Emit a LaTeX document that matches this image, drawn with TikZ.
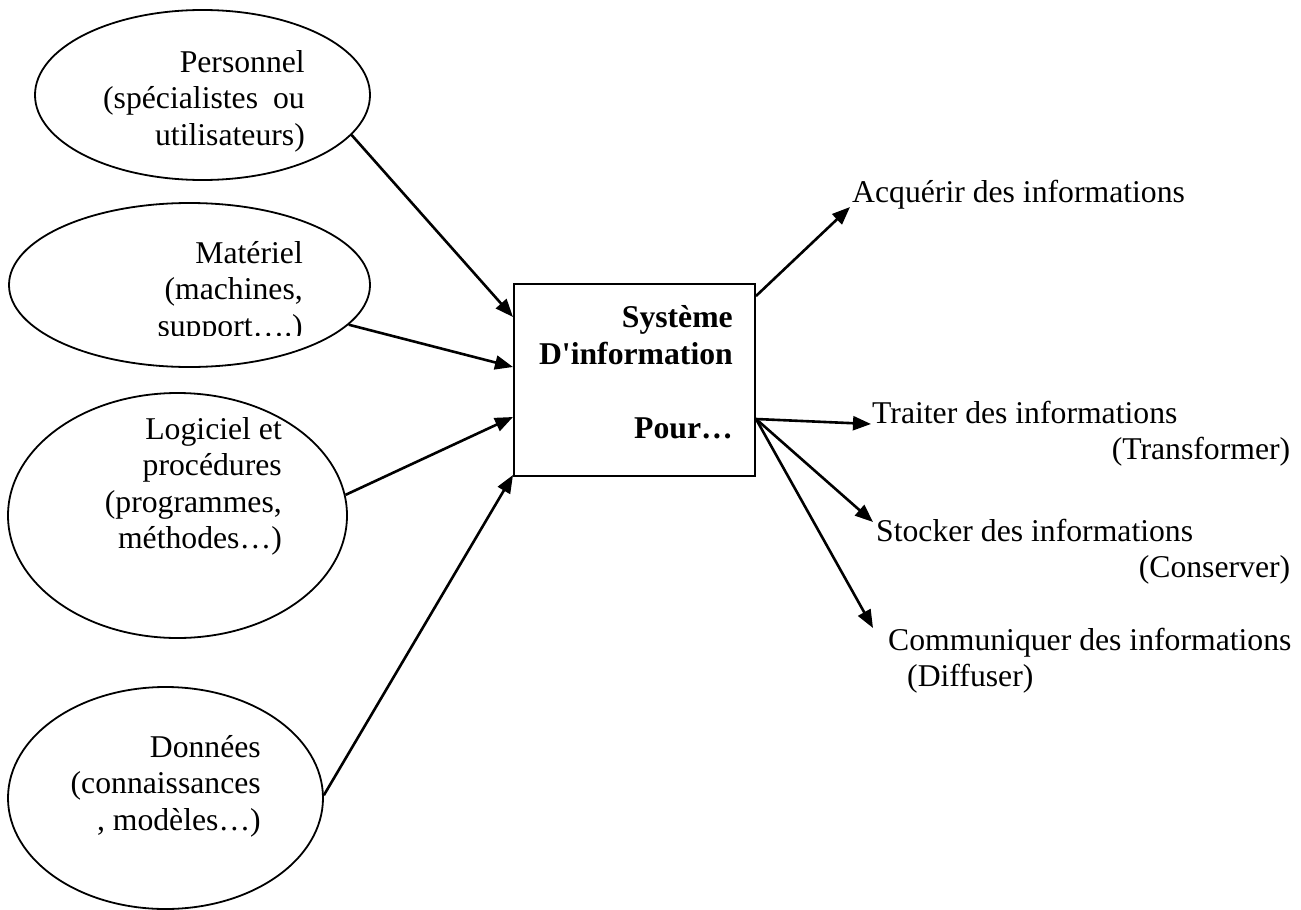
\documentclass[tikz,border=0pt]{standalone}
\usepackage{fontspec}
\setmainfont{Liberation Serif}
\usetikzlibrary{shapes.geometric,arrows.meta,calc}

\begin{document}
\begin{tikzpicture}[x=1pt,y=-1pt,
  bubble/.style={draw, ellipse, line width=1.8pt, inner sep=0pt},
  sysbox/.style={draw, rectangle, line width=2pt, inner sep=0pt},
  txt/.style={inner sep=0pt, font=\fontsize{31.7}{36.5}\selectfont},
  conn/.style={line width=2.6pt, -{Triangle[length=18pt,width=14pt]}},
]
\useasboundingbox (0,0) rectangle (1301,910);

% resources (ellipses)
\node[bubble, minimum width=335pt, minimum height=170pt] (pers) at (202.5,95) {};
\node[bubble, minimum width=361pt, minimum height=164pt] (mat)  at (189.5,285) {};
\node[bubble, minimum width=339pt, minimum height=245pt] (logi) at (177.5,515.5) {};
\node[bubble, minimum width=315pt, minimum height=222pt] (donn) at (165.5,798) {};

\node[txt, anchor=base east] (perst) at (305,72)
  {\begin{tabular}[t]{@{}r@{}}Personnel\\(spécialistes\hspace{15pt}ou\\utilisateurs)\end{tabular}};
\begin{scope}
  \clip (0,190) rectangle (400,335);
  \node[txt, anchor=base east] (matt) at (303,263)
    {\begin{tabular}[t]{@{}r@{}}Matériel\\(machines,\\support….)\end{tabular}};
\end{scope}
\node[txt, anchor=base east] (logit) at (282,439)
  {\begin{tabular}[t]{@{}r@{}}Logiciel et\\procédures\\(programmes,\\méthodes…)\end{tabular}};
\node[txt, anchor=base east] (donnt) at (261,757)
  {\begin{tabular}[t]{@{}r@{}}Données\\(connaissances\\, modèles…)\end{tabular}};

% central system
\node[sysbox, minimum width=241pt, minimum height=192pt] (si) at (634.5,380) {};
\node[txt, anchor=base east, font=\fontsize{31.7}{37}\selectfont\bfseries] (sit) at (733,327)
  {\begin{tabular}[t]{@{}r@{}}Système\\D\textquotesingle information\\[37pt]Pour…\end{tabular}};

% purposes
\node[txt, anchor=base west] (acq) at (852,202) {Acquérir des informations};
\node[txt, anchor=base west] (trait) at (872,423)
  {\parbox[t]{418pt}{Traiter des informations\\\hspace*{\fill}(Transformer)}};
\node[txt, anchor=base west] (stock) at (876,541)
  {\parbox[t]{414pt}{Stocker des informations\\\hspace*{\fill}(Conserver)}};
\node[txt, anchor=base west] (comm) at (888,650)
  {\begin{tabular}[t]{@{}l@{}}Communiquer des informations\\\hspace*{19pt}(Diffuser)\end{tabular}};

% arrow ends
\coordinate (acqtip)   at (850,207);
\coordinate (traittip) at (871,424);
\coordinate (stocktip) at (873,522);
\coordinate (commtip)  at (873,628);

% inputs
\draw[conn] (pers.-15.5) -- ([yshift=-34pt]si.north west);
\draw[conn] (mat.-14.9)  -- ([yshift=-84pt]si.north west);
\draw[conn] (logi.7)     -- ([yshift=-134pt]si.north west);
\draw[conn] (donn.1.8)   -- ([yshift=2pt]si.south west);

% outputs
\draw[conn] ([yshift=-13pt]si.north east)  -- (acqtip);
\draw[conn] ([yshift=-136pt]si.north east) -- (traittip);
\draw[conn] ([yshift=-136pt]si.north east) -- (stocktip);
\draw[conn] ([yshift=-136pt]si.north east) -- (commtip);
\end{tikzpicture}
\end{document}
